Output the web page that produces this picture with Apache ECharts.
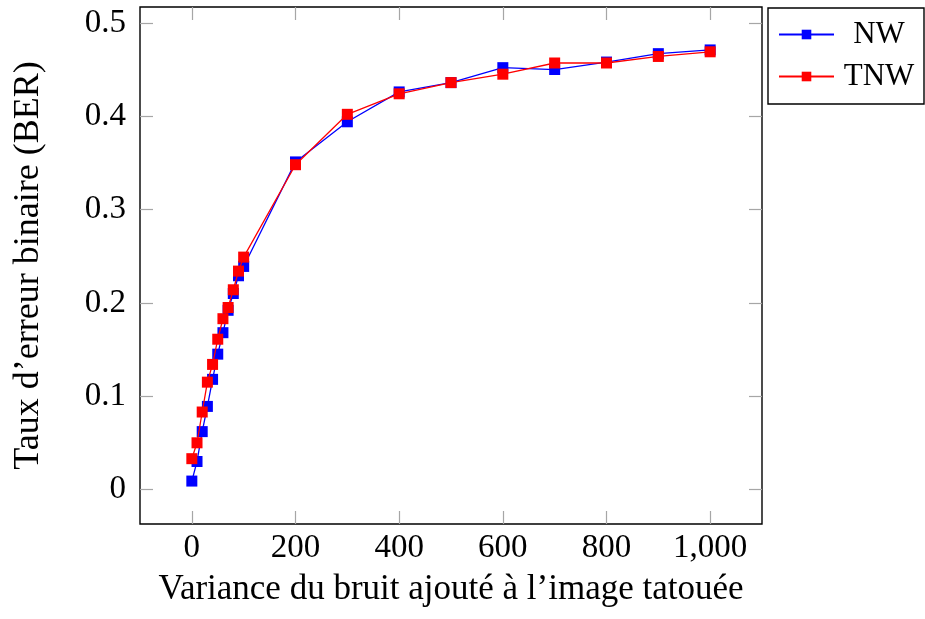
<!DOCTYPE html>
<html>
<head>
<meta charset="utf-8">
<script src="https://cdn.jsdelivr.net/npm/echarts@6/dist/echarts.min.js"></script>
<style>
html,body{margin:0;padding:0;background:#fff;}
#chart{width:925px;height:619px;}
</style>
</head>
<body>
<div id="chart"></div>
<script>
const xValues = [0, 10, 20, 30, 40, 50, 60, 70, 80, 90, 100, 200, 300, 400, 500, 600, 700, 800, 900, 1000];
const nwValues = [0.009, 0.030, 0.062, 0.089, 0.118, 0.145, 0.168, 0.192, 0.210, 0.229, 0.239, 0.351, 0.394, 0.426, 0.436, 0.452, 0.450, 0.458, 0.467, 0.471];
const tnwValues = [0.033, 0.050, 0.083, 0.115, 0.134, 0.161, 0.183, 0.195, 0.214, 0.234, 0.249, 0.348, 0.402, 0.424, 0.436, 0.445, 0.457, 0.457, 0.464, 0.469];
const xTickValues = [0, 200, 400, 600, 800, 1000];
const xTickLabels = ['0', '200', '400', '600', '800', '1,000'];
const yTickValues = [0, 0.1, 0.2, 0.3, 0.4, 0.5];
const yTickLabels = ['0', '0.1', '0.2', '0.3', '0.4', '0.5'];
const seriesNames = ['NW', 'TNW'];
const xTitle = 'Variance du bruit ajouté à l\u2019image tatouée';
const yTitle = 'Taux d\u2019erreur binaire (BER)';

const FONT = '"Liberation Serif", "Times New Roman", serif';
const tickGrey = '#a6a6a6';

function pairs(xs, ys) { return xs.map((x, i) => [x, ys[i]]); }
function labelFor(values, labels) {
  return v => {
    for (let i = 0; i < values.length; i++) if (Math.abs(values[i] - v) < 1e-9) return labels[i];
    return '';
  };
}

const xCommon = {
  type: 'value', min: -100, max: 1100,
  axisLine: { show: false, onZero: false },
  splitLine: { show: false },
  axisTick: { show: true, inside: true, length: 13, lineStyle: { color: tickGrey, width: 1.2 }, customValues: xTickValues }
};
const yCommon = {
  type: 'value', min: -0.037, max: 0.517,
  axisLine: { show: false, onZero: false },
  splitLine: { show: false },
  axisTick: { show: true, inside: true, length: 13, lineStyle: { color: tickGrey, width: 1.2 }, customValues: yTickValues }
};

const chart = echarts.init(document.getElementById('chart'), null, { renderer: 'canvas' });
chart.setOption({
  backgroundColor: '#fff',
  animation: false,
  grid: { left: 140, right: 163, top: 7, bottom: 95, show: true, borderColor: '#000', borderWidth: 1.4, backgroundColor: 'transparent' },
  legend: {
    left: 768, top: 8,
    orient: 'vertical',
    backgroundColor: '#fff',
    borderColor: '#000', borderWidth: 1.4, borderRadius: 0,
    padding: [11, 5, 12, 10],
    itemGap: 11,
    itemWidth: 55, itemHeight: 12,
    formatter: n => '{c|' + n + '}',
    textStyle: {
      rich: { c: { width: 80, align: 'center', fontSize: 31, lineHeight: 30, fontFamily: FONT, color: '#000' } }
    },
    data: seriesNames
  },
  xAxis: [
    Object.assign({}, xCommon, {
      position: 'bottom',
      name: xTitle, nameLocation: 'middle', nameGap: 48,
      nameTextStyle: { fontFamily: FONT, fontSize: 35, color: '#000' },
      axisLabel: { show: true, margin: 8, fontFamily: FONT, fontSize: 33, color: '#000', customValues: xTickValues, formatter: labelFor(xTickValues, xTickLabels) }
    }),
    Object.assign({}, xCommon, { position: 'top', axisLabel: { show: false } })
  ],
  yAxis: [
    Object.assign({}, yCommon, {
      position: 'left',
      name: yTitle, nameLocation: 'middle', nameGap: 93, nameRotate: 90,
      nameTextStyle: { fontFamily: FONT, fontSize: 36, color: '#000' },
      axisLabel: { show: true, margin: 14, fontFamily: FONT, fontSize: 33, color: '#000', customValues: yTickValues, formatter: labelFor(yTickValues, yTickLabels) }
    }),
    Object.assign({}, yCommon, { position: 'right', axisLabel: { show: false } })
  ],
  series: [
    {
      name: seriesNames[0], type: 'line', xAxisIndex: 0, yAxisIndex: 0,
      data: pairs(xValues, nwValues),
      symbol: 'rect', symbolSize: 11,
      lineStyle: { color: '#0000ff', width: 1.3 },
      itemStyle: { color: '#0000ff' },
      z: 2
    },
    {
      name: seriesNames[1], type: 'line', xAxisIndex: 0, yAxisIndex: 0,
      data: pairs(xValues, tnwValues),
      symbol: 'rect', symbolSize: 11,
      lineStyle: { color: '#ff0000', width: 1.3 },
      itemStyle: { color: '#ff0000' },
      z: 3
    }
  ]
});
</script>
</body>
</html>
